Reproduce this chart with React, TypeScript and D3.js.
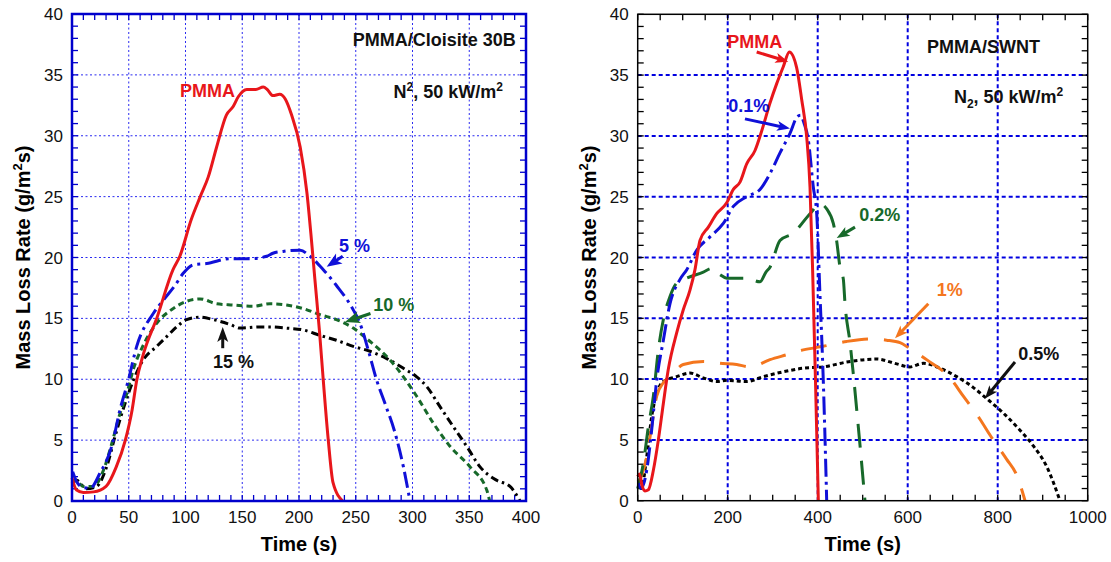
import React from "react";
import * as d3 from "d3";

// ---------- Left panel: PMMA / Cloisite 30B ----------
const leftXTicks = [0, 50, 100, 150, 200, 250, 300, 350, 400];
const leftYTicks = [0, 5, 10, 15, 20, 25, 30, 35, 40];

const pmmaLeft: [number, number][] = [
  [0, 1.9], [4, 0.9], [10, 0.7], [19, 0.75], [30, 1.2], [39, 2.8], [47, 5], [53, 7.5], [57, 9.9],
  [63, 12.1], [75, 15.1], [89, 19], [95, 20.1], [105, 23.1], [113, 25], [120, 26.6], [127.5, 29.1],
  [136, 31.7], [142, 32.4], [146.5, 33.2], [154, 33.8], [162, 33.8], [168.5, 34.0], [172, 33.8],
  [177, 33.3], [183, 33.4], [188, 33.0], [193.5, 31.7], [201, 29.1], [207, 25.3], [211, 21.4],
  [214, 18.2], [218, 14], [221.4, 9.9], [225.8, 5], [230, 1.5], [238.5, 0],
];
const clay5: [number, number][] = [
  [0.6, 2.4], [4, 1.6], [10, 1.1], [16, 1.05], [24.7, 2.3], [35, 4.5], [42.3, 7.5], [49.6, 9.9],
  [57, 12.7], [71.6, 15.4], [80.5, 16.5], [90.7, 17.7], [98, 18.7], [107, 19.4], [118.7, 19.5],
  [139, 19.9], [157, 19.9], [171.5, 20.1], [177, 20.35], [186, 20.5], [201, 20.6], [209.7, 20.1],
  [221.4, 19], [233, 17.7], [247.8, 15.7], [253.7, 14.6], [261, 12.4], [268.5, 9.9], [275.8, 8],
  [284.6, 5.6], [292, 2.8], [297.8, 0],
];
const clay10: [number, number][] = [
  [0, 1.45], [3, 1.7], [10, 1.2], [18.8, 1.2], [27.6, 2.5], [35, 4.7], [42.3, 7.2], [48.2, 8.8],
  [54, 10.8], [62.8, 12.8], [74.6, 14.6], [89, 15.8], [101, 16.4], [112.8, 16.6], [127.5, 16.2],
  [142, 16.1], [159.7, 16.0], [174.5, 16.2], [189, 16.1], [203.8, 15.8], [218.5, 15.3], [233, 14.9],
  [247.8, 14.2], [262.6, 13.1], [271.4, 12.4], [280, 11.6], [292, 10.2], [303.7, 8.6], [318.3, 6.4],
  [333, 4.5], [350.7, 2.8], [365.4, 0.9], [368, 0],
];
const clay15: [number, number][] = [
  [0, 1.45], [4, 1.7], [12.8, 1.0], [21.7, 1.2], [30.5, 2.8], [37.9, 5.3], [46.7, 8], [54, 9.9],
  [62.8, 11.6], [74.6, 12.7], [83.4, 13.5], [92.2, 14.3], [101, 14.9], [112.8, 15.1], [124.5, 14.9],
  [139.2, 14.5], [148, 14.2], [165.6, 14.3], [174.5, 14.3], [189, 14.2], [203.8, 14.05], [218.5, 13.6],
  [233, 13.2], [247.8, 12.7], [262.6, 12.3], [277.3, 11.7], [292, 10.9], [303.7, 10.2], [312.5, 9.4],
  [324.2, 7.75], [336, 6.1], [347.7, 4.5], [359.5, 2.8], [374.2, 1.7], [385.9, 1.2], [394.7, 0],
];

// ---------- Right panel: PMMA / SWNT ----------
const rightXTicks = [0, 200, 400, 600, 800, 1000];
const rightYTicks = [0, 5, 10, 15, 20, 25, 30, 35, 40];

const pmmaRight: [number, number][] = [
  [0, 2], [4, 2.2], [10, 1.2], [16, 0.8], [23.7, 0.9], [34.8, 2.5], [45.9, 5], [57, 8], [68, 10.8],
  [86.6, 13.8], [101.3, 15.7], [116, 17.3], [127.3, 19], [138.4, 21.4], [157, 22.5], [175.5, 23.6],
  [197.8, 24.5], [212.5, 25.6], [227.3, 26.2], [242.2, 27.7], [260.7, 28.8], [275.5, 30.4],
  [294, 32.7], [308.9, 34.3], [323.6, 35.7], [337, 36.9], [353.3, 35.6], [364.4, 33.0],
  [375.6, 29.9], [382.9, 25.8], [388.9, 18.7], [395, 10], [401.4, 0],
];
const swnt01: [number, number][] = [
  [1.4, 1.45], [7, 1.0], [20, 2.5], [31, 5.8], [42.2, 9.9], [57, 13.2], [71.8, 16.2], [94, 18.2],
  [109, 19], [131, 20.6], [160.7, 21.7], [190.2, 22.8], [212.5, 24.2], [242.2, 25], [271.8, 25.6],
  [294, 26.9], [316.2, 28.6], [338.4, 30.2], [355, 31.6], [362, 31.7], [370, 31.0], [379, 29.7],
  [390.2, 25.8], [397.8, 23.6], [405, 17], [412.4, 9.9], [420, 0],
];
const swnt02: [number, number][] = [
  [0, 1.0], [12.6, 3.1], [23.7, 6.1], [34.8, 8.6], [45.9, 12.4], [57, 14.9], [71.8, 16.8],
  [86.6, 17.9], [108.7, 18.3], [145.8, 18.8], [165, 19.1], [182.9, 18.6], [197.8, 18.3],
  [242.2, 18.3], [271.8, 18.0], [285, 18.8], [294, 19.2], [316.2, 21.4], [345.8, 22], [382.9, 23.6],
  [405, 24.4], [420, 24.0], [434.7, 22.8], [442, 21.4], [449.6, 19.2], [457, 18.2], [460.7, 16.2],
  [471.8, 13], [490.2, 6.1], [505, 0],
];
const swnt1: [number, number][] = [
  [1.4, 1.5], [8, 2.0], [20, 3.6], [31, 6.1], [42.2, 8.6], [57, 9.7], [71.8, 10.2], [101.3, 11.2],
  [145.8, 11.45], [182.9, 11.3], [220, 11.2], [249.6, 11.0], [294, 11.6], [331, 12.0], [368, 12.4],
  [412.4, 12.7], [464.4, 13.1], [516, 13.3], [553, 13.2], [582.9, 13.0], [605, 12.5], [642, 11.6],
  [694, 10.1], [723.6, 8.6], [760.7, 6.7], [782.9, 5.4], [820, 3.4], [842.2, 2.1], [860.7, 0],
];
const swnt05: [number, number][] = [
  [1.4, 1.7], [8, 1.0], [20, 3.6], [31, 6.9], [42.2, 8.8], [57, 9.8], [86.6, 10.2], [116, 10.5],
  [145.8, 10.1], [175.5, 9.8], [197.8, 9.9], [242.2, 9.8], [279, 10.2], [323.6, 10.6], [368, 10.9],
  [412.4, 11.0], [464.4, 11.4], [531, 11.65], [575.6, 11.25], [605, 11.0], [634.7, 11.3],
  [671.8, 10.9], [708.9, 10.2], [746, 9.3], [775.5, 8.4], [812.6, 7.2], [849.6, 5.8], [879.3, 4.5],
  [909, 2.8], [938.4, 0],
];

const FONT = "'Liberation Sans', Arial, Helvetica, sans-serif";
const RED = "#e8161b";
const BLUE = "#1010d8";
const GREEN = "#17692a";
const ORANGE = "#f4761e";

type Series = { data: [number, number][]; color: string; dash?: string; width?: number; cap?: string };
type Label = { text: string; t: number; v: number; color: string; anchor?: string };
type Arrow = { from: [number, number]; to: [number, number]; color: string; head: number; hw: number };

function ArrowMark({ a, x, y }: { a: Arrow; x: any; y: any }) {
  const x1 = x(a.from[0]), y1 = y(a.from[1]), x2 = x(a.to[0]), y2 = y(a.to[1]);
  const dx = x2 - x1, dy = y2 - y1;
  const L = Math.hypot(dx, dy);
  const ux = dx / L, uy = dy / L;
  const bx = x2 - ux * a.head, by = y2 - uy * a.head;
  const px = -uy * a.hw, py = ux * a.hw;
  const pts = `${x2},${y2} ${bx + px},${by + py} ${x2 - ux * a.head * 0.75},${y2 - uy * a.head * 0.75} ${bx - px},${by - py}`;
  return (
    <g>
      <line x1={x1} y1={y1} x2={x2 - ux * a.head * 0.7} y2={y2 - uy * a.head * 0.7} stroke={a.color} strokeWidth={3} />
      <polygon points={pts} fill={a.color} />
    </g>
  );
}

function Panel(props: {
  x0: number; x1: number; y0: number; y1: number;
  xDomain: [number, number]; xTicks: number[]; xMinor: number;
  yTicks: number[]; frameColor: string; frameWidth: number;
  gridColor: string; gridWidth: number; gridDash: string;
  series: Series[]; labels: Label[]; arrows: Arrow[];
  titleX: number; titleYx: number;
  extra: (x: any, y: any) => React.ReactNode;
}) {
  const { x0, x1, y0, y1 } = props;
  const x = d3.scaleLinear().domain(props.xDomain).range([x0, x1]);
  const y = d3.scaleLinear().domain([0, 40]).range([y1, y0]);
  const line = d3.line<[number, number]>().x((d) => x(d[0])).y((d) => y(d[1])).curve(d3.curveMonotoneX);
  const xMinorTicks = d3.range(props.xDomain[0], props.xDomain[1] + 0.001, props.xMinor);
  const yMinorTicks = d3.range(0, 40.001, 1);
  const tl = 6;
  const fc = props.frameColor;
  return (
    <g>
      {/* grid */}
      {props.xTicks.slice(1, -1).map((t) => (
        <line key={"gx" + t} x1={x(t)} x2={x(t)} y1={y0} y2={y1} stroke={props.gridColor} strokeWidth={props.gridWidth} strokeDasharray={props.gridDash} />
      ))}
      {props.yTicks.slice(1, -1).map((t) => (
        <line key={"gy" + t} y1={y(t)} y2={y(t)} x1={x0} x2={x1} stroke={props.gridColor} strokeWidth={props.gridWidth} strokeDasharray={props.gridDash} />
      ))}
      {/* ticks */}
      {xMinorTicks.map((t) => (
        <g key={"tx" + t}>
          <line x1={x(t)} x2={x(t)} y1={y1} y2={y1 - tl} stroke={fc} strokeWidth={1.3} />
          <line x1={x(t)} x2={x(t)} y1={y0} y2={y0 + tl} stroke={fc} strokeWidth={1.3} />
        </g>
      ))}
      {yMinorTicks.map((t) => (
        <g key={"ty" + t}>
          <line y1={y(t)} y2={y(t)} x1={x0} x2={x0 + tl} stroke={fc} strokeWidth={1.3} />
          <line y1={y(t)} y2={y(t)} x1={x1} x2={x1 - tl} stroke={fc} strokeWidth={1.3} />
        </g>
      ))}
      {/* series */}
      {props.series.map((s, i) => (
        <path key={"s" + i} d={line(s.data) || ""} fill="none" stroke={s.color} strokeWidth={s.width ?? 3}
          strokeDasharray={s.dash} strokeLinecap={(s.cap as any) ?? "butt"} strokeLinejoin="round" />
      ))}
      {/* frame */}
      <rect x={x0} y={y0} width={x1 - x0} height={y1 - y0} fill="none" stroke={fc} strokeWidth={props.frameWidth} />
      {/* tick labels */}
      {props.xTicks.map((t) => (
        <text key={"lx" + t} x={x(t)} y={523} textAnchor="middle" fontFamily={FONT} fontSize={17} fill="#111">{t}</text>
      ))}
      {props.yTicks.map((t) => (
        <text key={"ly" + t} x={x0 - 9} y={y(t) + 6} textAnchor="end" fontFamily={FONT} fontSize={17} fill="#111">{t}</text>
      ))}
      {/* axis titles */}
      <text x={props.titleX} y={551} textAnchor="middle" fontFamily={FONT} fontSize={20} fontWeight="bold">Time (s)</text>
      <text transform={`translate(${props.titleYx},${(y0 + y1) / 2}) rotate(-90)`} textAnchor="middle" fontFamily={FONT} fontSize={20} fontWeight="bold">
        Mass Loss Rate (g/m<tspan dy={-8} fontSize={13}>2</tspan><tspan dy={8}>s)</tspan>
      </text>
      {/* labels */}
      {props.labels.map((l, i) => (
        <text key={"lb" + i} x={x(l.t)} y={y(l.v)} textAnchor={l.anchor ?? "start"} fontFamily={FONT} fontSize={18} fontWeight="bold" fill={l.color}>{l.text}</text>
      ))}
      {props.arrows.map((a, i) => (
        <ArrowMark key={"ar" + i} a={a} x={x} y={y} />
      ))}
      {props.extra(x, y)}
    </g>
  );
}

export default function App() {
  return (
    <svg width={1111} height={562} style={{ position: "absolute", left: 0, top: 0, background: "#fff" }}>
      <rect width={1111} height={562} fill="#fff" />
      <Panel
        x0={72} x1={526} y0={14} y1={501}
        xDomain={[0, 400]} xTicks={leftXTicks} xMinor={10} yTicks={leftYTicks}
        frameColor="#0000cc" frameWidth={2.5}
        gridColor="#2a2af0" gridWidth={1} gridDash="2,2.5"
        series={[
          { data: clay15, color: "#000", dash: "8,4,2.5,4" },
          { data: clay10, color: GREEN, dash: "6,4" },
          { data: clay5, color: BLUE, dash: "16,5,3,5" },
          { data: pmmaLeft, color: RED },
        ]}
        labels={[
          { text: "PMMA", t: 95.2, v: 33.2, color: RED },
          { text: "5 %", t: 235.2, v: 20.45, color: BLUE },
          { text: "10 %", t: 265.5, v: 15.6, color: GREEN },
          { text: "15 %", t: 124.2, v: 10.9, color: "#111" },
          { text: "PMMA/Cloisite 30B", t: 391, v: 37.4, color: "#111", anchor: "end" },
        ]}
        arrows={[
          { from: [238.5, 20.1], to: [224.4, 19.25], color: BLUE, head: 15, hw: 6 },
          { from: [263, 15.4], to: [240.5, 14.7], color: GREEN, head: 15, hw: 6 },
          { from: [132.8, 12.55], to: [132.8, 14.3], color: "#111", head: 15, hw: 5.5 },
        ]}
        titleX={299} titleYx={30}
        extra={(x, y) => (
          <text x={x(379.7)} y={y(33.1)} textAnchor="end" fontFamily={FONT} fontSize={18} fontWeight="bold" fill="#111">
            N<tspan dy={-7} fontSize={12}>2</tspan><tspan dy={7}>, 50 kW/m</tspan><tspan dy={-7} fontSize={12}>2</tspan>
          </text>
        )}
      />
      <Panel
        x0={637.7} x1={1087.7} y0={14.3} y1={500.7}
        xDomain={[0, 1000]} xTicks={rightXTicks} xMinor={50} yTicks={rightYTicks}
        frameColor="#000" frameWidth={1.5}
        gridColor="#0000e0" gridWidth={2} gridDash="4,3"
        series={[
          { data: swnt05, color: "#000", dash: "4,3" },
          { data: swnt1, color: ORANGE, dash: "26,16" },
          { data: swnt02, color: GREEN, dash: "24,13" },
          { data: swnt01, color: BLUE, dash: "18,5,3,5" },
          { data: pmmaRight, color: RED },
        ]}
        labels={[
          { text: "PMMA", t: 199, v: 37.2, color: RED },
          { text: "0.1%", t: 201.3, v: 32.0, color: BLUE },
          { text: "0.2%", t: 492.4, v: 23.0, color: GREEN },
          { text: "1%", t: 664.4, v: 16.8, color: ORANGE },
          { text: "0.5%", t: 845.8, v: 11.57, color: "#111" },
          { text: "PMMA/SWNT", t: 893.9, v: 36.8, color: "#111", anchor: "end" },
        ]}
        arrows={[
          { from: [264.4, 36.9], to: [334.7, 36.1], color: RED, head: 13, hw: 5 },
          { from: [238.4, 31.4], to: [338.4, 30.6], color: BLUE, head: 13, hw: 5 },
          { from: [482.9, 22.5], to: [442.2, 21.6], color: GREEN, head: 13, hw: 5 },
          { from: [645.8, 16.2], to: [571.8, 13.35], color: ORANGE, head: 13, hw: 5 },
          { from: [838.4, 11.4], to: [771.8, 8.4], color: "#111", head: 13, hw: 5 },
        ]}
        titleX={862.7} titleYx={596}
        extra={(x, y) => (
          <text x={x(945.8)} y={y(32.7)} textAnchor="end" fontFamily={FONT} fontSize={18} fontWeight="bold" fill="#111">
            N<tspan dy={5} fontSize={12}>2</tspan><tspan dy={-5}>, 50 kW/m</tspan><tspan dy={-7} fontSize={12}>2</tspan>
          </text>
        )}
      />
    </svg>
  );
}
